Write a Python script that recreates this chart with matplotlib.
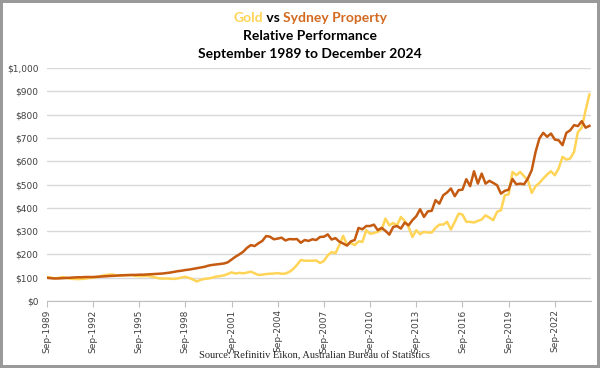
import matplotlib.pyplot as plt
import numpy as np
import pandas as pd

# quarterly, Sep-1989 .. Dec-2024 (value of $100 invested)
quarters = pd.date_range("1989-09-30", "2024-12-31", freq="QE")

gold = [103, 101, 97, 99, 103, 100, 96, 95, 94, 95, 96, 99,
        100, 103, 107, 111, 113, 114, 110, 109, 109, 112, 111, 108,
        107, 107, 108, 106, 102, 98, 96, 97, 96, 95, 97, 101,
        104, 99, 92, 84, 91, 95, 97, 100, 105, 107, 110, 116,
        123, 118, 121, 119, 122, 126, 119, 112, 113, 116, 117, 118,
        120, 117, 118, 125, 137, 155, 176, 173, 173, 173, 174, 163,
        172, 196, 210, 205, 240, 280, 242, 249, 240, 256, 254, 304,
        289, 292, 297, 307, 354, 325, 335, 325, 361, 344, 318, 275,
        304, 287, 297, 294, 294, 314, 328, 328, 340, 307, 340, 375,
        371, 340, 340, 337, 344, 350, 368, 358, 347, 383, 390, 454,
        458, 554, 540, 554, 536, 519, 464, 493, 507, 526, 543, 557,
        540, 569, 619, 607, 612, 640, 726, 744, 819, 887]

property_ = [100, 98, 97, 97, 98, 99, 100, 101, 102, 102, 103, 103,
             103, 104, 105, 106, 107, 108, 109, 110, 111, 111, 112, 112,
             113, 113, 114, 115, 116, 117, 118, 120, 122, 125, 128, 130,
             133, 135, 138, 141, 144, 147, 152, 155, 157, 159, 161, 166,
             178, 190, 200, 211, 228, 240, 236, 248, 258, 279, 276, 265,
             268, 272, 260, 266, 265, 266, 250, 262, 258, 265, 262, 275,
             276, 286, 264, 270, 255, 247, 238, 256, 262, 314, 308, 322,
             322, 328, 304, 314, 301, 285, 318, 322, 311, 337, 325, 347,
             364, 394, 361, 385, 387, 433, 418, 454, 466, 483, 450, 476,
             478, 523, 493, 557, 504, 547, 504, 516, 507, 497, 461, 473,
             478, 524, 501, 504, 501, 526, 562, 640, 698, 722, 705, 719,
             693, 690, 669, 722, 733, 755, 751, 772, 744, 752]

gold_col = "#FFD457"
prop_col = "#C55A11"

fig = plt.figure(figsize=(6, 3.68), dpi=100, edgecolor="#9a9a9a", linewidth=3)
ax = fig.add_axes([0.078, 0.182, 0.907, 0.633])

x = np.arange(len(quarters))
ax.plot(x, gold, color=gold_col, lw=1.8, zorder=3)
ax.plot(x, property_, color=prop_col, lw=1.8, zorder=4)

ax.set_ylim(0, 1000)
ax.set_xlim(0, len(quarters) - 0.6)
yt = np.arange(0, 1001, 100)
ax.set_yticks(yt)
ax.set_yticklabels(["${:,}".format(v) for v in yt], fontsize=6.5, color="#404040")
ax.yaxis.grid(True, color="#d9d9d9", lw=1)
ax.set_axisbelow(True)
ax.tick_params(axis="y", length=0, pad=6)

xt = x[::12]
ax.set_xticks(xt)
ax.set_xticklabels([q.strftime("%b-%Y") for q in quarters[::12]],
                   rotation=90, fontsize=6.5, color="#404040")
ax.tick_params(axis="x", length=4, color="#bfbfbf", pad=2)

for s in ["top", "right", "left"]:
    ax.spines[s].set_visible(False)
ax.spines["bottom"].set_color("#bfbfbf")

# title, three lines, first one two-coloured
tf = dict(fontsize=10, fontweight="bold", family="Lato", ha="left", va="center")
parts = [("Gold", gold_col), (" vs ", "black"), ("Sydney Property", "#D2691E")]
fig.canvas.draw()
r = fig.canvas.get_renderer()
widths = []
texts = []
for s, c in parts:
    t = fig.text(0, 0.95, s, color=c, **tf)
    widths.append(t.get_window_extent(r).width)
    texts.append(t)
xpos = 310 - sum(widths) / 2
for t, w in zip(texts, widths):
    t.set_x(xpos / 600)
    xpos += w
fig.text(310 / 600, 0.902, "Relative Performance", fontsize=10, fontweight="bold",
         family="Lato", ha="center", va="center")
fig.text(310 / 600, 0.853, "September 1989 to December 2024", fontsize=10,
         fontweight="bold", family="Lato", ha="center", va="center")

fig.text(314 / 600, 0.035, "Source: Refinitiv Eikon, Australian Bureau of Statistics",
         fontsize=7.5, family="Liberation Serif", ha="center", va="center", color="#262626")

fig.savefig("out.png", dpi=100, edgecolor=fig.get_edgecolor())
